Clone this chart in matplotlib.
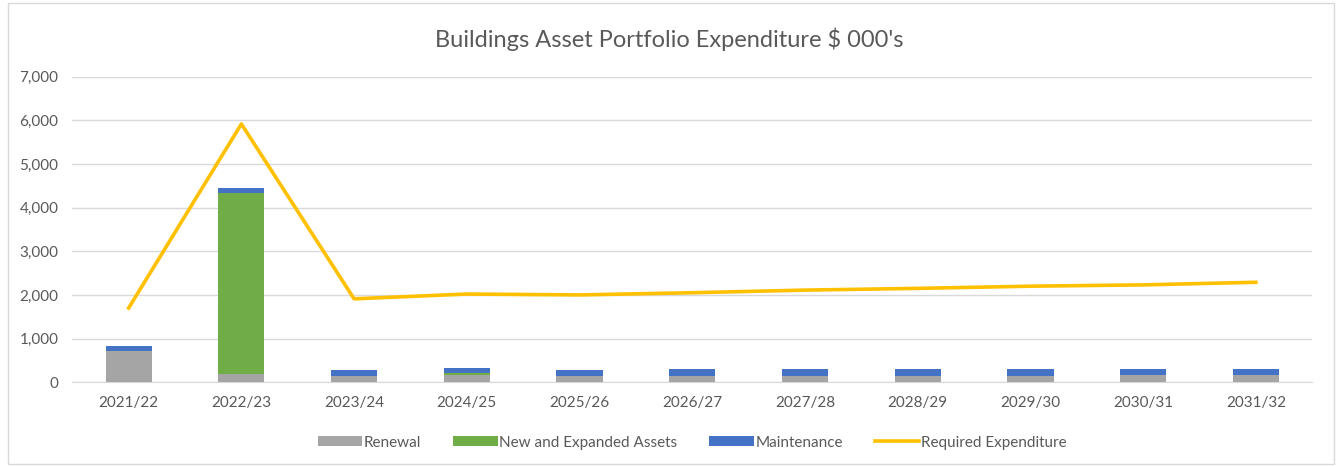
import matplotlib.pyplot as plt
import numpy as np
from matplotlib.patches import Rectangle

plt.rcParams['font.family'] = ['Lato', 'DejaVu Sans']

years = ["2021/22", "2022/23", "2023/24", "2024/25", "2025/26", "2026/27",
         "2027/28", "2028/29", "2029/30", "2030/31", "2031/32"]
renewal = [710, 180, 140, 170, 140, 140, 140, 140, 140, 165, 165]
new_assets = [0, 4150, 0, 40, 0, 0, 0, 0, 0, 0, 0]
maintenance = [120, 120, 130, 120, 130, 150, 150, 150, 150, 145, 145]
required = [1700, 5920, 1910, 2020, 2000, 2050, 2110, 2150, 2200, 2230, 2290]

fig = plt.figure(figsize=(13.39, 4.66), dpi=100)
ax = fig.add_axes([0.054, 0.18, 0.926, 0.655])

x = np.arange(len(years))
w = 0.41
renewal = np.array(renewal)
new_assets = np.array(new_assets)
maintenance = np.array(maintenance)

b1 = ax.bar(x, renewal, w, color="#a5a5a5", label="Renewal", zorder=3)
b2 = ax.bar(x, new_assets, w, bottom=renewal, color="#70ad47", label="New and Expanded Assets", zorder=3)
b3 = ax.bar(x, maintenance, w, bottom=renewal + new_assets, color="#4472c4", label="Maintenance", zorder=3)
l1, = ax.plot(x, required, color="#ffc000", lw=2.6, label="Required Expenditure", zorder=4)

ax.set_xlim(-0.5, len(years) - 0.5)
ax.set_ylim(0, 7000)
ax.set_yticks(range(0, 7001, 1000))
ax.set_yticklabels(["{:,}".format(v) for v in range(0, 7001, 1000)])
ax.set_xticks(x)
ax.set_xticklabels(years)
ax.grid(axis="y", color="#d9d9d9", lw=1, zorder=0)
for s in ["top", "right", "left"]:
    ax.spines[s].set_visible(False)
ax.spines["bottom"].set_color("#d9d9d9")
ax.tick_params(axis="both", length=0, labelsize=11, labelcolor="#595959", pad=10)

fig.text(0.5, 0.915, "Buildings Asset Portfolio Expenditure $ 000's", ha="center", va="center",
         fontsize=17, color="#595959")

ax.legend([b1, b2, b3, l1], [h.get_label() for h in [b1, b2, b3, l1]],
          loc="upper center", bbox_to_anchor=(0.5, -0.13), ncol=4, frameon=False,
          fontsize=11, labelcolor="#595959", handlelength=2.9, handleheight=0.6,
          handletextpad=0.1, columnspacing=2.1)

fig.patches.append(Rectangle((0.006, 0.004), 0.99, 0.99, transform=fig.transFigure,
                             fill=False, edgecolor="#d9d9d9", lw=1))

plt.savefig("out.png", dpi=100)
